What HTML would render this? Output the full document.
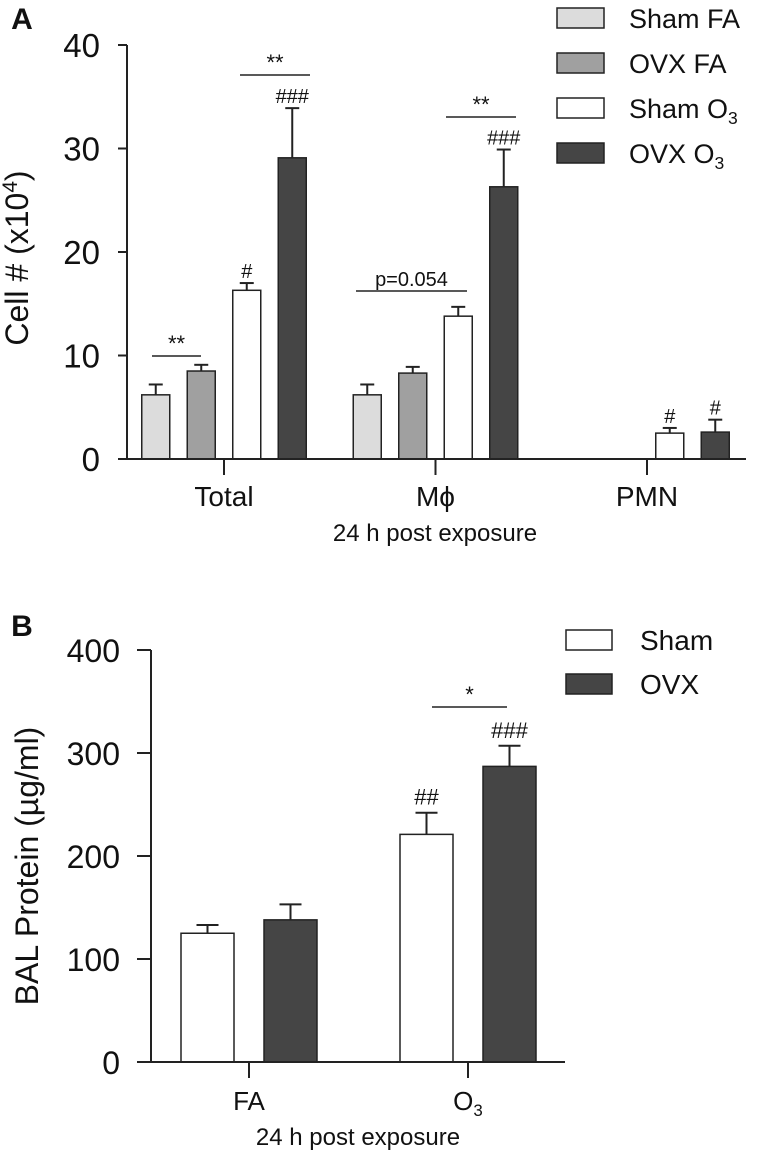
<!DOCTYPE html>
<html><head><meta charset="utf-8"><style>
html,body{margin:0;padding:0;background:#fff;}
svg{display:block;font-family:"Liberation Sans",Arial,sans-serif;}
</style></head><body>
<svg id="fig" width="761" height="1152" viewBox="0 0 761 1152" xmlns="http://www.w3.org/2000/svg"></svg>
<script>
// Panel A data
const catsA = ["Total", "Mϕ", "PMN"];
const seriesA = ["Sham FA", "OVX FA", "Sham O3", "OVX O3"];
const colorsA = ["#dcdcdc", "#a0a0a0", "#ffffff", "#454545"];
const valsA = [[6.2, 6.2, 0], [8.5, 8.3, 0], [16.3, 13.8, 2.5], [29.1, 26.3, 2.6]];
const errA = [[7.2, 7.2, 0], [9.1, 8.9, 0], [17.0, 14.7, 3.0], [33.9, 29.9, 3.8]];
const ticksA = [0, 10, 20, 30, 40];
const hashA = [["", "", ""], ["", "", ""], ["#", "", "#"], ["###", "###", "#"]];
// Panel B data
const catsB = ["FA", "O3"];
const seriesB = ["Sham", "OVX"];
const colorsB = ["#ffffff", "#454545"];
const valsB = [[125, 221], [138, 287]];
const errB = [[133, 242], [153, 307]];
const ticksB = [0, 100, 200, 300, 400];
const hashB = [["", "##"], ["", "###"]];

const NS = "http://www.w3.org/2000/svg";
const svg = document.getElementById("fig");
function mk(tag, attrs, parent) {
  const e = document.createElementNS(NS, tag);
  for (const k in attrs) e.setAttribute(k, attrs[k]);
  (parent || svg).appendChild(e);
  return e;
}
function txt(x, y, s, size, anchor, parent, weight) {
  const t = mk("text", {x: x, y: y, "font-size": size, "text-anchor": anchor || "middle", fill: "#111"}, parent);
  if (weight) t.setAttribute("font-weight", weight);
  t.textContent = s;
  return t;
}
function withSub(t, base, sub) {
  t.textContent = base;
  const s = document.createElementNS(NS, "tspan");
  s.setAttribute("font-size", "0.65em");
  s.setAttribute("dy", "6");
  s.textContent = sub;
  t.appendChild(s);
}

// ---------- Panel A ----------
const yA = v => 459 - v * 10.35;
const gA = i => 224 + 211.5 * i;
const gA_el = mk("g", {});


const lblA = txt(22, 29, "A", 30, "middle", gA_el, "bold");


for (let s = 0; s < seriesA.length; s++) {
  for (let c = 0; c < catsA.length; c++) {
    const v = valsA[s][c];
    if (v <= 0) continue;
    const cx = gA(c) + (s - 1.5) * 45.5;
    const e = errA[s][c];
    const eb = mk("line", {x1: cx, x2: cx, y1: yA(v), y2: yA(e), stroke: "#222", "stroke-width": 2}, gA_el);
    
    
    const cap = mk("line", {x1: cx - 7, x2: cx + 7, y1: yA(e), y2: yA(e), stroke: "#222", "stroke-width": 2}, gA_el);
    
    
    const r = mk("rect", {x: cx - 14, y: yA(v), width: 28, height: yA(0) - yA(v), fill: colorsA[s], stroke: "#222", "stroke-width": 1.5}, gA_el);
    
    
    if (hashA[s][c]) {
      const h = txt(cx, yA(e) - 5, hashA[s][c], 20, "middle", gA_el);
      
      
    }
  }
}
const axA = mk("path", {d: `M127 ${yA(40)} V${yA(0)} H746`, fill: "none", stroke: "#222", "stroke-width": 2}, gA_el);


ticksA.forEach(t => {
  mk("line", {x1: 118, x2: 127, y1: yA(t), y2: yA(t), stroke: "#222", "stroke-width": 2}, gA_el);
  const l = txt(100, yA(t) + 12, String(t), 33, "end", gA_el);
  
  
});
catsA.forEach((c, i) => {
  mk("line", {x1: gA(i), x2: gA(i), y1: yA(0), y2: yA(0) + 16, stroke: "#222", "stroke-width": 2}, gA_el);
  const l = txt(gA(i), 506, c, 28, "middle", gA_el);
  
  
});
const xtA = txt(435, 541, "24 h post exposure", 24, "middle", gA_el);


const ytA = mk("text", {x: 0, y: 0, "font-size": 32, "text-anchor": "middle", fill: "#111", transform: "translate(28,258) rotate(-90)"}, gA_el);


ytA.textContent = "Cell # (x10";
const sup = document.createElementNS(NS, "tspan"); sup.setAttribute("font-size", "0.65em"); sup.setAttribute("dy", "-11"); sup.textContent = "4"; ytA.appendChild(sup);
const sup2 = document.createElementNS(NS, "tspan"); sup2.setAttribute("dy", "11"); sup2.textContent = ")"; ytA.appendChild(sup2);
function bracket(g, x1, x2, y, label, size, name) {
  const l = mk("line", {x1: x1, x2: x2, y1: y, y2: y, stroke: "#222", "stroke-width": 1.5}, g);
  
  
  const t = txt((x1 + x2) / 2, y - 5, label, size, "middle", g);
  
  
}
bracket(gA_el, 152, 201, 356, "**", 22, "total-fa-comparison");
bracket(gA_el, 240, 310, 75, "**", 22, "total-o3-comparison");
bracket(gA_el, 356, 467, 291, "p=0.054", 20, "mphi-sham-comparison");
bracket(gA_el, 446, 516, 117, "**", 22, "mphi-o3-comparison");
const legY = [18, 63, 108, 153];
seriesA.forEach((s, i) => {
  const g = mk("g", {}, gA_el);
  
  
  mk("rect", {x: 557, y: legY[i] - 10, width: 47, height: 20, fill: colorsA[i], stroke: "#222", "stroke-width": 1.5}, g);
  const t = txt(629, legY[i] + 10, s, 27, "start", g);
  if (s.endsWith("O3")) withSub(t, s.slice(0, -1), "3");
});

// ---------- Panel B ----------
const yB = v => 1062 - v * 1.03;
const gB = i => 249 + 219 * i;
const gB_el = mk("g", {});


const lblB = txt(22, 636, "B", 30, "middle", gB_el, "bold");


for (let s = 0; s < seriesB.length; s++) {
  for (let c = 0; c < catsB.length; c++) {
    const v = valsB[s][c], e = errB[s][c];
    const cx = gB(c) + (s - 0.5) * 83;
    const eb = mk("line", {x1: cx, x2: cx, y1: yB(v), y2: yB(e), stroke: "#222", "stroke-width": 2}, gB_el);
    
    
    const cap = mk("line", {x1: cx - 11, x2: cx + 11, y1: yB(e), y2: yB(e), stroke: "#222", "stroke-width": 2}, gB_el);
    
    
    const r = mk("rect", {x: cx - 26.5, y: yB(v), width: 53, height: yB(0) - yB(v), fill: colorsB[s], stroke: "#222", "stroke-width": 1.5}, gB_el);
    
    
    if (hashB[s][c]) {
      const h = txt(cx, yB(e) - 8, hashB[s][c], 22, "middle", gB_el);
      
      
    }
  }
}
const axB = mk("path", {d: `M151 ${yB(400)} V${yB(0)} H565`, fill: "none", stroke: "#222", "stroke-width": 2}, gB_el);


ticksB.forEach(t => {
  mk("line", {x1: 137, x2: 151, y1: yB(t), y2: yB(t), stroke: "#222", "stroke-width": 2}, gB_el);
  const l = txt(120, yB(t) + 12, String(t), 32, "end", gB_el);
  
  
});
catsB.forEach((c, i) => {
  mk("line", {x1: gB(i), x2: gB(i), y1: yB(0), y2: yB(0) + 16, stroke: "#222", "stroke-width": 2}, gB_el);
  const l = txt(gB(i), 1110, c, 26, "middle", gB_el);
  
  
  if (c === "O3") withSub(l, "O", "3");
});
const xtB = txt(358, 1145, "24 h post exposure", 24, "middle", gB_el);


const ytB = mk("text", {x: 0, y: 0, "font-size": 32, "text-anchor": "middle", fill: "#111", transform: "translate(38,866) rotate(-90)"}, gB_el);


ytB.textContent = "BAL Protein (µg/ml)";
bracket(gB_el, 432, 507, 707, "*", 22, "o3-comparison");
const legYB = [640, 684];
seriesB.forEach((s, i) => {
  const g = mk("g", {}, gB_el);
  
  
  mk("rect", {x: 566, y: legYB[i] - 10, width: 46, height: 20, fill: colorsB[i], stroke: "#222", "stroke-width": 1.5}, g);
  txt(640, legYB[i] + 10, s, 28, "start", g);
});
</script>
</body></html>
